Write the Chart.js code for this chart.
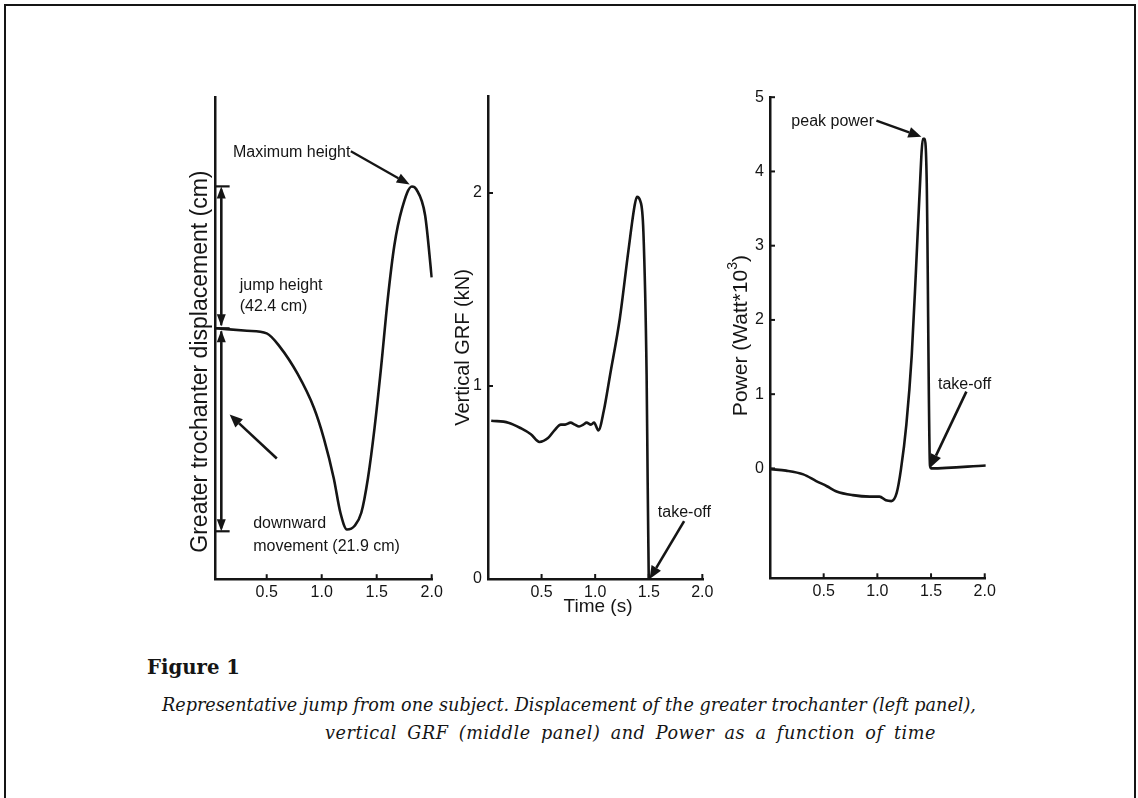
<!DOCTYPE html>
<html><head><meta charset="utf-8">
<script src="https://cdn.jsdelivr.net/npm/chart.js@4.4.1/dist/chart.umd.min.js"></script>
<style>
html,body{margin:0;padding:0;background:#fff;}
#page{position:relative;width:1138px;height:798px;overflow:hidden;background:#fff;}
#frame{position:absolute;left:4px;top:4px;width:1132px;height:820px;border:2px solid #151515;box-sizing:border-box;}
canvas{position:absolute;}
.cap{position:absolute;white-space:nowrap;color:#151515;font-family:"DejaVu Serif",serif;}
</style></head><body>
<div id="page">
<div id="frame"></div>
<canvas id="chL" width="300" height="560" style="left:150px;top:60px;width:300px;height:560px"></canvas>
<canvas id="chM" width="290" height="580" style="left:440px;top:60px;width:290px;height:580px"></canvas>
<canvas id="chR" width="300" height="560" style="left:720px;top:60px;width:300px;height:560px"></canvas>
<div class="cap" id="fig" style="left:147px;font-weight:bold;">Figure 1</div>
<div class="cap" id="l1" style="left:162px;font-style:italic;">Representative jump from one subject. Displacement of the greater trochanter (left panel),</div>
<div class="cap" id="l2" style="left:325px;font-style:italic;">vertical GRF (middle panel) and Power as a function of time</div>
</div>
<script>
// ---------- data ----------
const xTickVals = [0.5, 1.0, 1.5, 2.0];
const xTickLabels = ['0.5', '1.0', '1.5', '2.0'];
const grfTickVals = [0, 1, 2];
const powTickVals = [0, 1, 2, 3, 4, 5];

// left panel: greater trochanter displacement (cm, relative to standing)
const timeDisp = [0.04, 0.32, 0.50, 0.62, 0.78, 0.93, 1.02, 1.11, 1.17, 1.23, 1.30, 1.36, 1.42, 1.48, 1.54, 1.60, 1.66, 1.73, 1.82, 1.86, 1.94, 2.00];
const dispCm   = [0, -0.26, -0.55, -2.0, -4.9, -8.6, -11.9, -16.2, -19.9, -21.7, -21.3, -19.9, -16.2, -10.8, -4.2, 3.1, 8.9, 12.9, 15.3, 15.0, 12.2, 5.5];

// middle panel: vertical GRF (kN)
const timeGRF = [0.03, 0.19, 0.31, 0.40, 0.48, 0.56, 0.62, 0.68, 0.72, 0.77, 0.81, 0.85, 0.89, 0.92, 0.96, 0.99, 1.03, 1.08, 1.14, 1.23, 1.31, 1.37, 1.39, 1.42, 1.45, 1.48, 1.49, 1.50];
const grfKN   = [0.82, 0.81, 0.78, 0.75, 0.71, 0.73, 0.77, 0.80, 0.80, 0.81, 0.80, 0.79, 0.80, 0.81, 0.80, 0.81, 0.77, 0.87, 1.06, 1.35, 1.70, 1.94, 1.98, 1.96, 1.80, 1.06, 0.50, 0.00];

// right panel: power (W*10^3)
const timePow = [0.01, 0.15, 0.31, 0.43, 0.53, 0.62, 0.77, 0.93, 1.02, 1.08, 1.13, 1.18, 1.22, 1.27, 1.32, 1.36, 1.39, 1.425, 1.44, 1.46, 1.49, 1.50, 2.01];
const powerKW = [-0.01, -0.03, -0.08, -0.17, -0.24, -0.31, -0.36, -0.38, -0.38, -0.43, -0.44, -0.33, -0.01, 0.59, 1.52, 2.68, 3.61, 4.44, 4.44, 3.84, 0.04, 0.00, 0.04];

// ---------- helpers ----------
const INK = '#151515';
const SANS = '"Liberation Sans", Arial, sans-serif';
function pts(xs, ys) { return xs.map((x, i) => ({x: x, y: ys[i]})); }

function arrow(ctx, x1, y1, x2, y2, hl, hw, lw) {
  const a = Math.atan2(y2 - y1, x2 - x1);
  const bx = x2 - hl * Math.cos(a), by = y2 - hl * Math.sin(a);
  ctx.lineWidth = lw;
  ctx.beginPath(); ctx.moveTo(x1, y1); ctx.lineTo(bx, by); ctx.stroke();
  ctx.beginPath(); ctx.moveTo(x2, y2);
  ctx.lineTo(bx + hw * Math.sin(a), by - hw * Math.cos(a));
  ctx.lineTo(bx - hw * Math.sin(a), by + hw * Math.cos(a));
  ctx.closePath(); ctx.fill();
}
function vtext(ctx, txt, x, y, size) {
  ctx.save(); ctx.translate(x, y); ctx.rotate(-Math.PI / 2);
  ctx.font = size + 'px ' + SANS; ctx.textAlign = 'center'; ctx.textBaseline = 'middle';
  ctx.fillText(txt, 0, 0); ctx.restore();
}
function txt(ctx, s, x, y, size, align) {
  ctx.font = size + 'px ' + SANS; ctx.textAlign = align || 'left'; ctx.textBaseline = 'middle';
  ctx.fillText(s, x, y);
}

function scales(o) {
  const grid = {display: true, drawOnChartArea: false, drawTicks: false, color: 'rgba(0,0,0,0)'};
  const border = {display: true, color: INK, width: 2.5};
  return {
    x: {
      type: 'linear', min: o.xmin, max: o.xmax,
      afterBuildTicks: s => { s.ticks = xTickVals.map(v => ({value: v})); },
      ticks: {callback: (v, i) => xTickLabels[i], font: {family: SANS, size: 16}, color: INK, padding: 4, maxRotation: 0, autoSkip: false},
      grid: grid, border: border,
      afterFit: s => { s.height = o.xh; s.paddingLeft = 0; s.paddingRight = 0; }
    },
    y: {
      type: 'linear', min: o.ymin, max: o.ymax,
      afterBuildTicks: s => { s.ticks = o.yTicks.map(v => ({value: v})); },
      ticks: {display: o.showY, callback: v => String(v), font: {family: SANS, size: 16}, color: INK, padding: 6, autoSkip: false},
      grid: grid, border: border,
      afterFit: s => { s.width = o.yw; s.paddingTop = 0; s.paddingBottom = 0; }
    }
  };
}

function inwardTicks(chart, showY) {
  const ctx = chart.ctx, sx = chart.scales.x, sy = chart.scales.y;
  ctx.save(); ctx.strokeStyle = INK; ctx.lineWidth = 2;
  xTickVals.forEach(v => { const p = sx.getPixelForValue(v); ctx.beginPath(); ctx.moveTo(p, sx.top); ctx.lineTo(p, sx.top - 5); ctx.stroke(); });
  if (showY) sy.ticks.forEach(t => { const p = sy.getPixelForValue(t.value); ctx.beginPath(); ctx.moveTo(sy.right, p); ctx.lineTo(sy.right + 5, p); ctx.stroke(); });
  ctx.restore();
}

function make(id, data, o, draw) {
  return new Chart(document.getElementById(id), {
    type: 'line',
    data: {datasets: [{data: data, borderColor: INK, borderWidth: 2.6, pointRadius: 0, fill: false, cubicInterpolationMode: 'monotone'}]},
    options: {
      responsive: false, animation: false, events: [],
      layout: {padding: o.pad},
      plugins: {legend: {display: false}, tooltip: {enabled: false}, title: {display: false}},
      scales: scales(o)
    },
    plugins: [{id: 'ann' + id, afterDraw(chart) {
      const ctx = chart.ctx; ctx.save(); ctx.fillStyle = INK; ctx.strokeStyle = INK;
      inwardTicks(chart, o.showY);
      const X = v => chart.scales.x.getPixelForValue(v), Y = v => chart.scales.y.getPixelForValue(v);
      draw(ctx, X, Y, chart);
      ctx.restore();
    }}]
  });
}

// ---------- left ----------
make('chL', pts(timeDisp, dispCm),
  {xmin: 0.03, xmax: 2.01, ymin: -27.07, ymax: 24.91, yTicks: [0], showY: false, yw: 65, xh: 40.8,
   pad: {left: 0, top: 37.4, right: 17.2, bottom: 0}},
  (ctx, X, Y) => {
    vtext(ctx, 'Greater trochanter displacement (cm)', 51, 301.6, 23);
    const bx = X(0.087), c0 = X(0.035), c1 = X(0.163);
    const top = Y(15.31), mid = Y(0), bot = Y(-21.9);
    ctx.lineWidth = 2.2;
    [top, mid, bot].forEach(y => { ctx.beginPath(); ctx.moveTo(c0, y); ctx.lineTo(c1, y); ctx.stroke(); });
    arrow(ctx, bx, mid - 3, bx, top, 12, 4.5, 2.2);
    arrow(ctx, bx, top + 3, bx, mid - 2, 12, 4.5, 2.2);
    arrow(ctx, bx, bot - 3, bx, mid + 2, 12, 4.5, 2.2);
    arrow(ctx, bx, mid + 3, bx, bot, 12, 4.5, 2.2);
    txt(ctx, 'Maximum height', X(0.194), Y(18.96), 16);
    arrow(ctx, X(1.265), Y(19.1), X(1.80), Y(15.5), 13, 5, 2.2);
    txt(ctx, 'jump height', X(0.255), Y(4.56), 16);
    txt(ctx, '(42.4 cm)', X(0.255), Y(2.3), 16);
    txt(ctx, 'downward', X(0.377), Y(-21.1), 16);
    txt(ctx, 'movement (21.9 cm)', X(0.377), Y(-23.59), 16);
    arrow(ctx, X(0.592), Y(-14.05), X(0.163), Y(-9.3), 13, 5.5, 2.6);
  });

// ---------- middle ----------
make('chM', pts(timeGRF, grfKN),
  {xmin: 0, xmax: 2.01, ymin: 0, ymax: 2.5, yTicks: grfTickVals, showY: true, yw: 48, xh: 61,
   pad: {left: 0, top: 36.5, right: 26.6, bottom: 0}},
  (ctx, X, Y) => {
    vtext(ctx, 'Vertical GRF (kN)', 23.5, 287.5, 20);
    txt(ctx, 'Time (s)', 158, 546.5, 19, 'center');
    txt(ctx, 'take-off', X(1.585), Y(0.343), 16);
    arrow(ctx, X(1.83), Y(0.30), X(1.508), Y(0.0), 13, 5.5, 2.6);
  });

// ---------- right ----------
make('chR', pts(timePow, powerKW),
  {xmin: 0, xmax: 2.01, ymin: -1.48, ymax: 5, yTicks: powTickVals, showY: true, yw: 50, xh: 41.7,
   pad: {left: 0, top: 37.2, right: 34.2, bottom: 0}},
  (ctx, X, Y) => {
    ctx.save(); ctx.translate(21.3, 275.6); ctx.rotate(-Math.PI / 2);
    ctx.font = '21px ' + SANS; ctx.textBaseline = 'middle';
    const a = 'Power (Watt*10', b = '3', c = ')';
    const wa = ctx.measureText(a).width; ctx.font = '14px ' + SANS; const wb = ctx.measureText(b).width;
    ctx.font = '21px ' + SANS; const wc = ctx.measureText(c).width;
    let x0 = -(wa + wb + wc) / 2;
    ctx.textAlign = 'left'; ctx.fillText(a, x0, 0);
    ctx.font = '14px ' + SANS; ctx.fillText(b, x0 + wa, -8);
    ctx.font = '21px ' + SANS; ctx.fillText(c, x0 + wa + wb, 0);
    ctx.restore();
    txt(ctx, 'peak power', X(0.199), Y(4.666), 16);
    arrow(ctx, X(0.991), Y(4.685), X(1.41), Y(4.467), 13, 5.5, 2.4);
    txt(ctx, 'take-off', X(1.565), Y(1.127), 16);
    arrow(ctx, X(1.829), Y(1.034), X(1.494), Y(0.014), 13, 5.5, 2.6);
  });

// ---------- caption sizing ----------
(function () {
  const c = document.createElement('canvas').getContext('2d');
  function fitTo(el, width) {
    const cs = getComputedStyle(el);
    c.font = cs.fontStyle + ' ' + cs.fontWeight + ' 100px ' + cs.fontFamily;
    return 100 * width / c.measureText(el.textContent).width;
  }
  function place(el, fs, cy) {
    el.style.fontSize = fs + 'px'; el.style.lineHeight = fs + 'px';
    el.style.top = (cy - fs * 0.5) + 'px';
  }
  const fig = document.getElementById('fig'), l1 = document.getElementById('l1'), l2 = document.getElementById('l2');
  place(fig, fitTo(fig, 93), 668);
  const fs = fitTo(l1, 814);
  place(l1, fs, 706);
  place(l2, fs, 734);
  c.font = 'italic normal ' + fs + 'px "DejaVu Serif"';
  const t2 = l2.textContent;
  const extra = 611 - c.measureText(t2).width;
  const nSpaces = (t2.match(/ /g) || []).length;
  const ls = Math.max(0, extra * 0.45 / t2.length);
  const ws = Math.max(0, extra * 0.55 / nSpaces);
  l2.style.letterSpacing = ls + 'px';
  l2.style.wordSpacing = ws + 'px';
})();
</script>
</body></html>
